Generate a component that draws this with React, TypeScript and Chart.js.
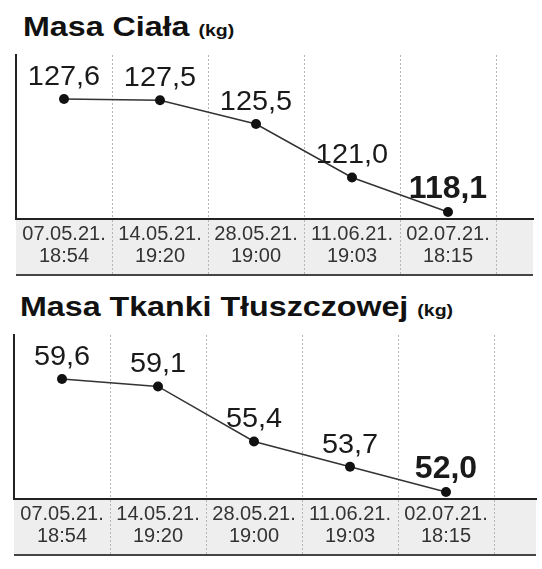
import React, { useEffect, useRef } from 'react';
import { Chart, registerables } from 'chart.js';

Chart.register(...registerables);

// ---- data ----
const categories: string[][] = [
  ['07.05.21.', '18:54'],
  ['14.05.21.', '19:20'],
  ['28.05.21.', '19:00'],
  ['11.06.21.', '19:03'],
  ['02.07.21.', '18:15'],
];
const masaCiala = [127.6, 127.5, 125.5, 121.0, 118.1];
const masaTkanki = [59.6, 59.1, 55.4, 53.7, 52.0];
const masaCialaRange = [117.51, 131.3];
const masaTkankiRange = [51.53, 62.56];

const FONT = '"Liberation Sans", Arial, sans-serif';
const fmt = (v: number) => v.toFixed(1).replace('.', ',');

const CANVAS_W = 542;
const CANVAS_H = 240;
const PLOT_TOP_PAD = 10;
const PLOT_H = 164;
const BAND_H = 57;
const COL_W = 96;

function makeConfig(values: number[], range: number[], left: number, right: number): any {
  const bandPlugin = {
    id: 'band',
    beforeDraw(chart: any) {
      const { ctx, chartArea } = chart;
      const xs = chart.scales.x;
      ctx.save();
      ctx.fillStyle = '#eeeeee';
      ctx.fillRect(chartArea.left, xs.top, chartArea.right - chartArea.left, BAND_H);
      ctx.strokeStyle = '#444444';
      ctx.lineWidth = 2;
      ctx.beginPath();
      ctx.moveTo(chartArea.left, xs.top + BAND_H - 1);
      ctx.lineTo(chartArea.right, xs.top + BAND_H - 1);
      ctx.stroke();
      ctx.restore();
    },
  };
  const labelPlugin = {
    id: 'valueLabels',
    afterDatasetsDraw(chart: any) {
      const { ctx } = chart;
      const meta = chart.getDatasetMeta(0);
      meta.data.forEach((pt: any, i: number) => {
        const last = i === meta.data.length - 1;
        ctx.save();
        ctx.font = last ? `bold 32px ${FONT}` : `27px ${FONT}`;
        ctx.fillStyle = '#1a1a1a';
        ctx.textAlign = 'center';
        ctx.textBaseline = 'alphabetic';
        ctx.translate(pt.x, pt.y - 14);
        if (!last) ctx.scale(1.07, 1);
        ctx.fillText(fmt(values[i]), 0, 0);
        ctx.restore();
      });
    },
  };
  const gridColor = (c: any) => (c.index === 0 ? 'rgba(0,0,0,0)' : '#b4b4b4');
  return {
    type: 'line',
    data: {
      labels: categories.map((c) => c.join(' ')),
      datasets: [
        {
          data: values.map((v, i) => ({ x: i, y: v })),
          borderColor: '#333333',
          borderWidth: 1.5,
          pointRadius: 5,
          pointBackgroundColor: '#111111',
          pointBorderColor: '#111111',
          pointBorderWidth: 0,
          tension: 0,
          fill: false,
        },
      ],
    },
    options: {
      responsive: false,
      animation: false,
      devicePixelRatio: 1,
      layout: {
        padding: {
          left,
          right: CANVAS_W - right,
          top: PLOT_TOP_PAD,
          bottom: CANVAS_H - PLOT_TOP_PAD - PLOT_H - BAND_H,
        },
      },
      plugins: { legend: { display: false }, tooltip: { enabled: false }, title: { display: false } },
      scales: {
        x: {
          type: 'linear',
          min: -0.5,
          max: -0.5 + (right - left) / COL_W,
          afterBuildTicks: (scale: any) => {
            scale.ticks = categories.map((_, i) => ({ value: i }));
          },
          afterFit: (scale: any) => {
            scale.height = BAND_H;
          },
          ticks: {
            autoSkip: false,
            maxRotation: 0,
            minRotation: 0,
            padding: -52,
            color: '#333333',
            font: { family: FONT, size: 20, lineHeight: 1.08 },
            callback: (value: number) => categories[value] ?? '',
          },
          grid: {
            offset: true,
            color: gridColor,
            lineWidth: 1,
            drawTicks: true,
            tickLength: BAND_H,
            tickColor: gridColor,
            tickWidth: 1,
            tickBorderDash: [2, 2],
          },
          border: { display: true, color: '#222222', width: 2, dash: [2, 2] },
        },
        y: {
          type: 'linear',
          min: range[0],
          max: range[1],
          ticks: { display: false },
          grid: { display: false, drawTicks: false },
          border: { display: true, color: '#222222', width: 2 },
        },
      },
    },
    plugins: [bandPlugin, labelPlugin],
  };
}

function LineBox({ values, range, left, right, top }: any) {
  const ref = useRef<HTMLCanvasElement | null>(null);
  useEffect(() => {
    if (!ref.current) return;
    const chart = new Chart(ref.current, makeConfig(values, range, left, right));
    return () => chart.destroy();
  }, []);
  return (
    <canvas
      ref={ref}
      width={CANVAS_W}
      height={CANVAS_H}
      style={{ position: 'absolute', left: 0, top, width: CANVAS_W, height: CANVAS_H }}
    />
  );
}

function Title({ text, top, left }: any) {
  return (
    <div
      style={{
        position: 'absolute',
        top,
        left,
        fontFamily: FONT,
        fontWeight: 'bold',
        fontSize: 28,
        lineHeight: '28px',
        color: '#111111',
        whiteSpace: 'nowrap',
        transform: 'scaleX(1.15)',
        transformOrigin: 'left top',
      }}
    >
      {text} <span style={{ fontSize: 17 }}>(kg)</span>
    </div>
  );
}

export default function App() {
  return (
    <div
      style={{
        position: 'absolute',
        left: 0,
        top: 0,
        width: 542,
        height: 569,
        background: '#ffffff',
        overflow: 'hidden',
      }}
    >
      <Title text="Masa Ciała" top={13} left={23} />
      <LineBox values={masaCiala} range={masaCialaRange} left={16} right={533} top={45} />
      <Title text="Masa Tkanki Tłuszczowej" top={293} left={20} />
      <LineBox values={masaTkanki} range={masaTkankiRange} left={14} right={536} top={325} />
    </div>
  );
}
